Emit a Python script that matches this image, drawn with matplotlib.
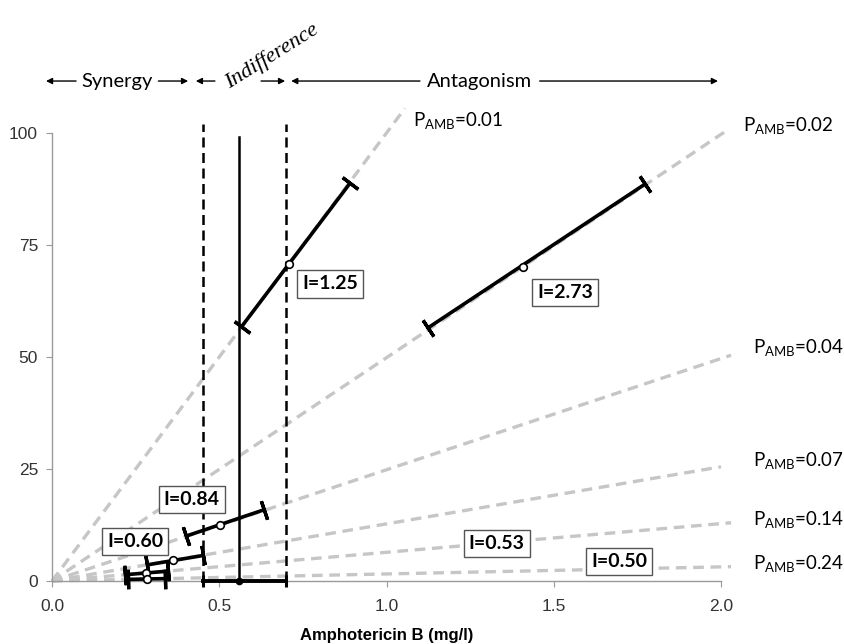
import matplotlib.pyplot as plt
import numpy as np

# rays through the origin, one per P_AMB level
p_labels = ["0.01", "0.02", "0.04", "0.07", "0.14", "0.24"]
ray_end_x = [1.055, 2.02, 2.03, 2.00, 2.03, 2.03]
ray_end_y = [105.5, 100.7, 50.4, 25.5, 13.0, 3.2]
p_label_x = [1.08, 2.066, 2.095, 2.095, 2.095, 2.095]
p_label_y = [102.5, 101.5, 52.0, 26.6, 13.6, 3.8]

# interaction index bars: low end, point estimate, high end
i_labels = ["I=1.25", "I=2.73", "I=0.84", "I=0.60", "I=0.53", "I=0.50"]
bar_x = [(0.567, 0.708, 0.891), (1.124, 1.408, 1.773), (0.400, 0.502, 0.634),
         (0.285, 0.361, 0.452), (0.218, 0.281, 0.347), (0.228, 0.283, 0.337)]
bar_y = [(56.8, 70.8, 88.8), (56.5, 70.1, 88.6), (10.0, 12.6, 15.9),
         (3.6, 4.6, 5.7), (1.4, 1.8, 2.2), (0.36, 0.44, 0.53)]
box_x = [0.831, 1.534, 0.418, 0.248, 1.329, 1.696]
box_y = [66.3, 64.4, 18.1, 8.9, 8.3, 4.3]

# amphotericin B alone
amb_mic = 0.56
amb_ci = (0.45, 0.70)

LABEL_FONT = "Lato"

fig = plt.figure(figsize=(8.44, 6.44), dpi=100)
ax = fig.add_axes([52 / 844, 1 - 581 / 644, (721 - 52) / 844, (581 - 133) / 644])
ax.set_xlim(0, 2.0)
ax.set_ylim(0, 100)

for ex, ey in zip(ray_end_x, ray_end_y):
    ax.plot([0, ex], [0, ey], color="#c6c6c6", lw=2.4, dashes=(3.2, 2.0),
            clip_on=False, zorder=1)

for lab, lx, ly in zip(p_labels, p_label_x, p_label_y):
    ax.text(lx, ly, r"P$_{\mathregular{AMB}}$=" + lab, fontsize=13.5,
            family=LABEL_FONT, ha="left", va="center", clip_on=False)

# indifference band and AMB alone
for xv in amb_ci:
    ax.plot([xv, xv], [0, 102], color="black", lw=1.8, dashes=(4, 2.2),
            clip_on=False, zorder=2)
ax.plot([amb_mic, amb_mic], [0, 99], color="black", lw=1.8, zorder=3)
ax.plot(amb_ci, [0, 0], color="black", lw=2.8, clip_on=False, zorder=4,
        marker="|", markersize=9, markeredgewidth=2.2)
ax.plot([amb_mic], [0], "o", color="black", markersize=4.5, clip_on=False, zorder=5)


def cap_angle(x0, y0, x1, y1):
    p0, p1 = ax.transData.transform([(x0, y0), (x1, y1)])
    return np.degrees(np.arctan2(p1[1] - p0[1], p1[0] - p0[0]))


for xs, ys in zip(bar_x, bar_y):
    ang = cap_angle(xs[0], ys[0], xs[2], ys[2])
    ax.plot([xs[0], xs[2]], [ys[0], ys[2]], color="black", lw=2.6,
            solid_capstyle="butt", clip_on=False, zorder=4)
    ax.plot([xs[0], xs[2]], [ys[0], ys[2]], linestyle="none", marker=(2, 2, ang),
            markersize=14, markeredgewidth=2.4, color="black", clip_on=False, zorder=4)
    ax.plot([xs[1]], [ys[1]], "o", markerfacecolor="white", markeredgecolor="black",
            markersize=5.5, markeredgewidth=1.2, clip_on=False, zorder=6)

for lab, bx, by in zip(i_labels, box_x, box_y):
    ax.text(bx, by, lab, fontsize=14, fontweight="bold", family=LABEL_FONT,
            ha="center", va="center", zorder=7,
            bbox=dict(boxstyle="square,pad=0.26", facecolor="white",
                      edgecolor="#555555", linewidth=1.0))

# header: synergy / indifference / antagonism
hy = 111.6
arr = dict(arrowstyle="-|>", color="black", lw=1.0, mutation_scale=9,
           shrinkA=0, shrinkB=0)
header_arrows = [(0.072, -0.018), (0.318, 0.407), (0.487, 0.430),
                 (0.625, 0.697), (1.100, 0.715), (1.458, 1.991)]
for x0, x1 in header_arrows:
    ax.annotate("", xy=(x1, hy), xytext=(x0, hy), arrowprops=arr,
                annotation_clip=False)
ax.text(0.195, hy, "Synergy", fontsize=14.5, family=LABEL_FONT,
        ha="center", va="center", clip_on=False)
ax.text(1.279, hy, "Antagonism", fontsize=14.5, family=LABEL_FONT,
        ha="center", va="center", clip_on=False)
ax.text(0.530, hy - 1.8, "Indifference", fontsize=16, family="Liberation Serif",
        style="italic", rotation=32, rotation_mode="anchor",
        ha="left", va="baseline", clip_on=False)

# axes styling
for side in ("top", "right"):
    ax.spines[side].set_visible(False)
for side in ("left", "bottom"):
    ax.spines[side].set_color("#9a9a9a")
    ax.spines[side].set_linewidth(1.0)
ax.set_xticks([0.0, 0.5, 1.0, 1.5, 2.0])
ax.set_xticklabels(["0.0", "0.5", "1.0", "1.5", "2.0"])
ax.set_yticks([0, 25, 50, 75, 100])
ax.tick_params(direction="out", length=4, color="#9a9a9a", labelsize=12.5,
               labelcolor="#333333", pad=6)
ax.tick_params(axis="x", pad=9)
ax.set_xlabel("Amphotericin B (mg/l)", fontsize=12, fontweight="bold",
              family="Liberation Sans", labelpad=10)
for lbl in ax.get_xticklabels() + ax.get_yticklabels():
    lbl.set_family("Liberation Sans")

fig.savefig("out.png", dpi=100)
